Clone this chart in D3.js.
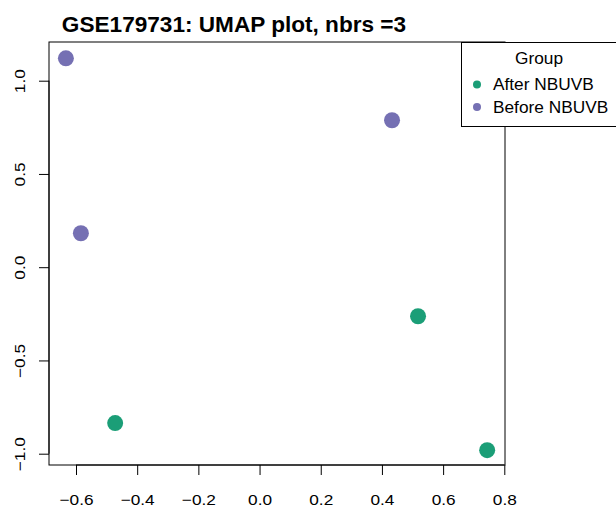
<!DOCTYPE html>
<html>
<head>
<meta charset="utf-8">
<script src="https://cdn.jsdelivr.net/npm/d3@7"></script>
<style>
  body { margin: 0; background: #fff; }
  text { font-family: "Liberation Sans", Arial, sans-serif; fill: #000; }
</style>
</head>
<body>
<div id="chart"></div>
<script>
var groups = ['After NBUVB', 'Before NBUVB'];
var colors = ['#1B9E77', '#7570B3'];
var umapX = [-0.633, -0.584, 0.433, 0.518, -0.472, 0.744];
var umapY = [1.12, 0.182, 0.788, -0.263, -0.836, -0.981];
var sampleGroup = ['Before NBUVB', 'Before NBUVB', 'Before NBUVB', 'After NBUVB', 'After NBUVB', 'After NBUVB'];
var xTicks = [-0.6, -0.4, -0.2, 0.0, 0.2, 0.4, 0.6, 0.8];
var yTicks = [-1.0, -0.5, 0.0, 0.5, 1.0];

var width = 616, height = 510;
var box = {left: 49, right: 505, top: 42, bottom: 465};

var svg = d3.select('#chart').append('svg')
  .attr('width', width)
  .attr('height', height);

var x = d3.scaleLinear().domain([-0.6, 0.8]).range([76, 504.3]);
var y = d3.scaleLinear().domain([-1.0, 1.0]).range([453.7, 80.7]);
var color = d3.scaleOrdinal().domain(groups).range(colors);

// box
svg.append('rect')
  .attr('x', box.left).attr('y', box.top)
  .attr('width', box.right - box.left)
  .attr('height', box.bottom - box.top)
  .attr('fill', 'none').attr('stroke', '#000').attr('stroke-width', 1);

// axes
var xAxis = d3.axisBottom(x).tickValues(xTicks).tickSize(10).tickPadding(19)
  .tickFormat(d3.format('.1f'));
var yAxis = d3.axisLeft(y).tickValues(yTicks).tickSize(10).tickPadding(6)
  .tickFormat(d3.format('.1f'));

var gx = svg.append('g')
  .attr('transform', 'translate(0,' + box.bottom + ')')
  .call(xAxis);
gx.select('.domain').attr('d', 'M' + x(-0.6) + ',0H' + x(0.8));

var gy = svg.append('g')
  .attr('transform', 'translate(' + box.left + ',0)')
  .call(yAxis);
gy.select('.domain').attr('d', 'M0,' + y(-1) + 'V' + y(1));

svg.selectAll('.tick text')
  .style('font-size', '15px')
  .style('font-family', '"Liberation Sans", Arial, sans-serif')
  .attr('fill', '#000');
gx.selectAll('.tick text')
  .attr('transform', 'translate(0,' + 29 + ') scale(1.15,1) translate(0,-29)');
gy.selectAll('.tick text')
  .attr('text-anchor', 'middle')
  .attr('x', null).attr('dy', null)
  .attr('transform', 'translate(-24,0) rotate(-90) scale(1.15,1)');

// points
svg.append('g').selectAll('circle')
  .data(umapX)
  .enter().append('circle')
  .attr('cx', function (d) { return x(d); })
  .attr('cy', function (d, i) { return y(umapY[i]); })
  .attr('r', 8)
  .attr('fill', function (d, i) { return color(sampleGroup[i]); });

// title
svg.append('text')
  .attr('x', 234).attr('y', 31.5)
  .attr('text-anchor', 'middle')
  .style('font-size', '22.6px')
  .style('font-weight', 'bold')
  .text('GSE179731: UMAP plot, nbrs =3');

// legend
var lg = svg.append('g');
lg.append('rect')
  .attr('x', 461.5).attr('y', 42.5)
  .attr('width', 170).attr('height', 84)
  .attr('fill', '#fff').attr('stroke', '#000');
lg.append('text')
  .attr('transform', 'translate(539,64) scale(1.08,1)')
  .attr('text-anchor', 'middle')
  .style('font-size', '16px')
  .text('Group');
var items = lg.selectAll('g.item')
  .data(groups)
  .enter().append('g')
  .attr('class', 'item')
  .attr('transform', function (d, i) { return 'translate(0,' + (84.5 + i * 22.5) + ')'; });
items.append('circle')
  .attr('cx', 477).attr('cy', 0).attr('r', 4)
  .attr('fill', function (d) { return color(d); });
items.append('text')
  .attr('transform', 'translate(493,5.8) scale(1.08,1)')
  .style('font-size', '16px')
  .text(function (d) { return d; });
</script>
</body>
</html>
